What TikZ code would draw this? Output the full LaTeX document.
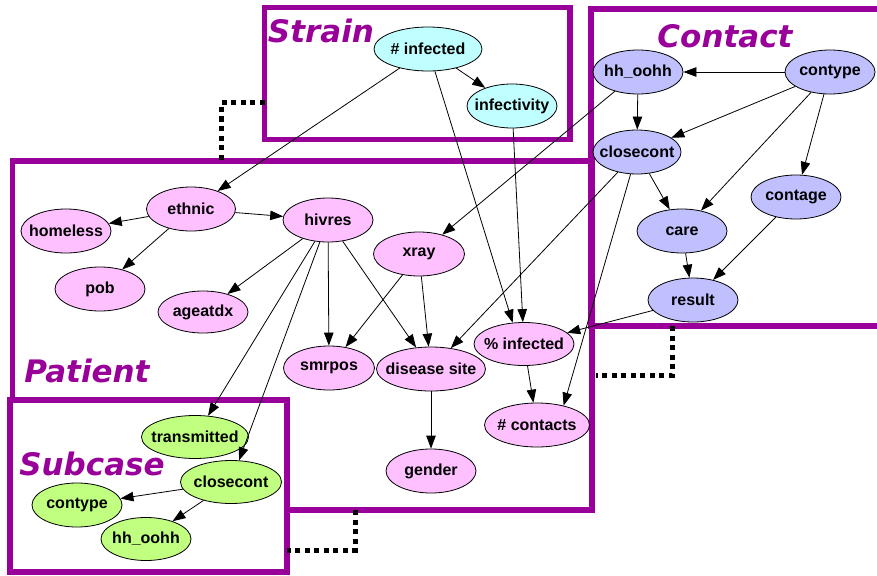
\documentclass[tikz,border=0pt]{standalone}
\usepackage{fontspec}
\setmainfont{Liberation Sans}
\newfontfamily\lblfont{DejaVu Sans}
\usetikzlibrary{shapes.geometric,arrows.meta}
\definecolor{boxpurple}{HTML}{990099}
\definecolor{pinkfill}{HTML}{FFC0FF}
\definecolor{cyanfill}{HTML}{C0FFFF}
\definecolor{lavfill}{HTML}{C0C0FF}
\definecolor{greenfill}{HTML}{C0FF80}
\newcommand\ntxt[1]{\makebox[0pt]{#1}}
\begin{document}
\begin{tikzpicture}[x=1pt,y=-1pt,
  var/.style={ellipse, draw, line width=0.8pt, inner sep=0pt,
    minimum width=90pt, minimum height=44pt,
    font=\fontsize{16}{19}\selectfont\bfseries},
  pat/.style={var, fill=pinkfill},
  str/.style={var, fill=cyanfill},
  con/.style={var, fill=lavfill},
  sub/.style={var, fill=greenfill},
  edge/.style={line width=0.8pt, -{Triangle[length=13pt,width=9.5pt]}},
  plate/.style={draw=boxpurple, line width=5.5pt},
  link/.style={line width=5pt, dash pattern=on 5pt off 4.5pt},
  platelabel/.style={text=boxpurple, anchor=base, inner sep=0pt,
    font=\lblfont\bfseries\itshape\fontsize{31}{34}\selectfont}]
\useasboundingbox (0,0) rectangle (877,575);

% plates
\draw[plate] (12.5,161) rectangle (592,510);
\draw[plate, fill=white] (10,400) rectangle (287,572);
\draw[plate] (264.5,7.5) rectangle (570,139.5);
\draw[plate] (591,9) rectangle (890,326);

% plate links
\coordinate (l1a) at (264.5,103);
\coordinate (l1b) at (221,103);
\coordinate (l1c) at (221,161);
\coordinate (l2a) at (672,326);
\coordinate (l2b) at (672,375);
\coordinate (l2c) at (596,375);
\coordinate (l3a) at (355,510);
\coordinate (l3b) at (355,550);
\coordinate (l3c) at (287,550);
\draw[link] (l1a) -- (l1b) -- (l1c);
\draw[link] (l2a) -- (l2b) -- (l2c);
\draw[link] (l3a) -- (l3b) -- (l3c);

% plate labels
\node[platelabel] (lstrain) at (321,43) {Strain};
\node[platelabel] (lcontact) at (725,48) {Contact};
\node[platelabel] (lpatient) at (87,382) {Patient};
\node[platelabel] (lsubcase) at (92,475) {Subcase};

% Strain
\node[str, minimum width=108pt] (si) at (428,49) {\ntxt{\# infected}};
\node[str] (sinf) at (512,106) {\ntxt{infectivity}};
% Contact
\node[con] (chh) at (638,72) {\ntxt{hh\_oohh}};
\node[con] (cct) at (830,72) {\ntxt{contype}};
\node[con, minimum width=88pt] (ccc) at (637,152) {\ntxt{closecont}};
\node[con] (cage) at (796,197) {\ntxt{contage}};
\node[con] (ccare) at (682,231) {\ntxt{care}};
\node[con] (cres) at (693,300) {\ntxt{result}};
% Patient
\node[pat, minimum width=89pt] (pe) at (191,209) {\ntxt{ethnic}};
\node[pat] (ph) at (66,231) {\ntxt{homeless}};
\node[pat] (phiv) at (328,220) {\ntxt{hivres}};
\node[pat, minimum width=91pt] (px) at (419,254) {\ntxt{xray}};
\node[pat] (ppob) at (100,289) {\ntxt{pob}};
\node[pat, minimum height=42pt] (page) at (203,312) {\ntxt{ageatdx}};
\node[pat, minimum width=91pt] (psm) at (329,368) {\ntxt{smrpos}};
\node[pat, minimum width=109pt] (pds) at (431,369) {\ntxt{disease site}};
\node[pat, minimum width=100pt, minimum height=43pt] (ppi) at (524,344) {\ntxt{\% infected}};
\node[pat, minimum width=105pt] (pnc) at (537,425) {\ntxt{\# contacts}};
\node[pat] (pg) at (431,471) {\ntxt{gender}};
% Subcase
\node[sub, minimum width=107pt, minimum height=43pt] (sbt) at (195,437) {\ntxt{transmitted}};
\node[sub, minimum width=101pt, minimum height=43pt] (sbc) at (231,482) {\ntxt{closecont}};
\node[sub] (sbct) at (77,505) {\ntxt{contype}};
\node[sub, minimum height=43pt] (sbh) at (146,539) {\ntxt{hh\_oohh}};

% edges
\draw[edge] (si) -- (sinf);
\draw[edge] (si) -- (pe);
\draw[edge] (si) -- (ppi.118);
\draw[edge] (sinf) -- (ppi.93);
\draw[edge] (cct) -- (chh);
\draw[edge] (chh) -- (ccc);
\draw[edge] (cct) -- (ccc);
\draw[edge] (cct) -- (ccare);
\draw[edge] (cct) -- (cage);
\draw[edge] (ccc) -- (ccare);
\draw[edge] (ccare) -- (cres);
\draw[edge] (cage) -- (cres);
\draw[edge] (cres) -- (ppi);
\draw[edge] (chh) -- (px);
\draw[edge] (ccc) -- (pds);
\draw[edge] (ccc) -- (pnc.36);
\draw[edge] (pe) -- (ph);
\draw[edge] (pe) -- (ppob);
\draw[edge] (pe) -- (phiv);
\draw[edge] (phiv) -- (page);
\draw[edge] (phiv) -- (psm);
\draw[edge] (phiv) -- (pds);
\draw[edge] (phiv) -- (sbt);
\draw[edge] (phiv) -- (sbc);
\draw[edge] (px) -- (psm);
\draw[edge] (px) -- (pds);
\draw[edge] (pds) -- (pg);
\draw[edge] (ppi) -- (pnc);
\draw[edge] (sbc) -- (sbct);
\draw[edge] (sbc) -- (sbh);
\end{tikzpicture}
\end{document}
